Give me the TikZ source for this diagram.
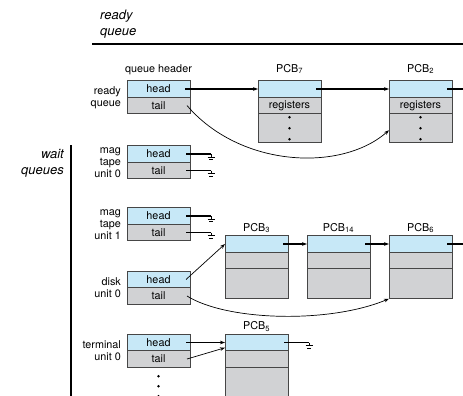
\documentclass[tikz,border=0pt]{standalone}
\usepackage{fontspec}
\setmainfont{TeX Gyre Heros}
\usepackage{tikz}
\usetikzlibrary{arrows.meta, positioning}

\definecolor{cellblue}{RGB}{199,232,247}
\definecolor{cellgray}{RGB}{209,210,212}
\definecolor{edgegray}{RGB}{70,70,70}

\begin{document}
\begin{tikzpicture}[x=1pt, y=-1pt,
    every node/.style={font=\fontsize{10.8}{12}\selectfont},
    cell/.style={draw=edgegray, line width=0.75pt, minimum width=63pt, minimum height=16.5pt, inner sep=0pt, outer sep=0pt},
    blue cell/.style={cell, fill=cellblue},
    gray cell/.style={cell, fill=cellgray},
    tag/.style={align=right, inner sep=0pt},
    caption/.style={anchor=base, inner sep=0pt},
    title/.style={font=\fontsize{13}{16}\selectfont\itshape, inner sep=0pt},
    link/.style={line width=1.3pt},
    ptr/.style={link, -{Stealth[length=5pt, width=3.6pt]}},
    thin ptr/.style={line width=0.7pt, -{Stealth[length=5pt, width=3.6pt]}},
    gnd/.pic={\draw[line width=1pt] (0,0) -- (0,3) (-3.5,3) -- (3.5,3) (-2,5.5) -- (2,5.5);}]
    \useasboundingbox (0,0) rectangle (463,396);
    \coordinate (rim) at (475,0);

    \node[title, align=left, anchor=north west] (readytitle) at (100,9.5) {ready\\queue};
    \draw[line width=1.2pt] (92,44) -- (470,44);
    \node[title, align=right, anchor=north east] (waittitle) at (64,149.5) {wait\\queues};
    \draw[line width=1.2pt] (71,145) -- (71,402);

    % queue headers
    \node[blue cell] (rqhead) at (158.5,89) {head};
    \node[gray cell, below=0pt of rqhead] (rqtail) {tail};
    \node[caption] (hdrcap) at ([yshift=8.5pt]rqhead.north) {queue header};
    \node[tag, left=6pt of rqhead.south west, anchor=east] (rqtag) {ready\\queue};

    \node[blue cell] (mt0head) at (158.5,154) {head};
    \node[gray cell, below=0pt of mt0head] (mt0tail) {tail};
    \node[tag, left=6pt of mt0head.south west, anchor=east] (mt0tag) {mag\\tape\\unit 0};

    \node[blue cell] (mt1head) at (158.5,216) {head};
    \node[gray cell, below=0pt of mt1head] (mt1tail) {tail};
    \node[tag, left=6pt of mt1head.south west, anchor=east] (mt1tag) {mag\\tape\\unit 1};

    \node[blue cell] (dkhead) at (158.5,279.5) {head};
    \node[gray cell, below=0pt of dkhead] (dktail) {tail};
    \node[tag, left=6pt of dkhead.south west, anchor=east] (dktag) {disk\\unit 0};

    \node[blue cell] (tmhead) at (158.5,342.5) {head};
    \node[gray cell, below=0pt of tmhead] (tmtail) {tail};
    \node[tag, left=6pt of tmhead.south west, anchor=east] (tmtag) {terminal\\unit 0};

    % ready queue PCBs
    \node[blue cell] (pcb7top) at (289.5,89) {};
    \node[gray cell, below=0pt of pcb7top] (pcb7regs) {registers};
    \node[gray cell, minimum height=29pt, below=0pt of pcb7regs] (pcb7dots) {};
    \node[caption] (pcb7cap) at ([yshift=8.5pt]pcb7top.north) {PCB\textsubscript{7}};

    \node[blue cell, right=68pt of pcb7top] (pcb2top) {};
    \node[gray cell, below=0pt of pcb2top] (pcb2regs) {registers};
    \node[gray cell, minimum height=29pt, below=0pt of pcb2regs] (pcb2dots) {};
    \node[caption] (pcb2cap) at ([yshift=8.5pt]pcb2top.north) {PCB\textsubscript{2}};

    \foreach \p in {pcb7,pcb2}
        \foreach \d in {3.5,14.5,25.5}
            \fill (\p dots.north) ++(0,\d) circle (1.4pt);

    % disk and terminal PCBs
    \node[blue cell] (pcb3top) at (256.5,244) {};
    \node[gray cell, below=0pt of pcb3top] (pcb3mid) {};
    \node[gray cell, minimum height=30pt, below=0pt of pcb3mid] (pcb3bot) {};
    \node[caption] (pcb3cap) at ([yshift=4.5pt]pcb3top.north) {PCB\textsubscript{3}};

    \node[blue cell, right=19pt of pcb3top] (pcb14top) {};
    \node[gray cell, below=0pt of pcb14top] (pcb14mid) {};
    \node[gray cell, minimum height=30pt, below=0pt of pcb14mid] (pcb14bot) {};
    \node[caption] (pcb14cap) at ([yshift=4.5pt]pcb14top.north) {PCB\textsubscript{14}};

    \node[blue cell, right=19pt of pcb14top] (pcb6top) {};
    \node[gray cell, below=0pt of pcb6top] (pcb6mid) {};
    \node[gray cell, minimum height=30pt, below=0pt of pcb6mid] (pcb6bot) {};
    \node[caption] (pcb6cap) at ([yshift=4.5pt]pcb6top.north) {PCB\textsubscript{6}};

    \node[blue cell] (pcb5top) at (256.5,342.5) {};
    \node[gray cell, below=0pt of pcb5top] (pcb5mid) {};
    \node[gray cell, minimum height=36pt, below=0pt of pcb5mid] (pcb5bot) {};
    \node[caption] (pcb5cap) at ([yshift=4.5pt]pcb5top.north) {PCB\textsubscript{5}};

    \foreach \d in {9,19,29}
        \fill (tmtail.south) ++(0,\d) circle (1.4pt);

    % pointers
    \draw[ptr] ([xshift=-5pt]rqhead.east) -- (pcb7top.west);
    \draw[ptr] ([xshift=-5pt]pcb7top.east) -- (pcb2top.west);
    \draw[link] ([xshift=-5pt]pcb2top.east) -- (pcb2top.east -| rim);
    \draw[thin ptr] ([xshift=-3pt]rqtail.east) .. controls +(53,62) and +(-48,42) .. ([yshift=-2pt]pcb2dots.west);

    \foreach \n in {mt0head,mt0tail,mt1head,mt1tail,pcb5top}
        \draw[link] ([xshift=-4pt]\n.east) -- ++(25,0) pic{gnd};

    \draw[thin ptr] ([xshift=-4pt]dkhead.east) -- (pcb3top.west);
    \draw[ptr] ([xshift=-5pt]pcb3top.east) -- (pcb14top.west);
    \draw[ptr] ([xshift=-5pt]pcb14top.east) -- (pcb6top.west);
    \draw[link] ([xshift=-5pt]pcb6top.east) -- (pcb6top.east -| rim);
    \draw[thin ptr] ([xshift=-3pt]dktail.east) .. controls +(40,25) and +(-60,25) .. (pcb6bot.south west);

    \draw[ptr] ([xshift=-4pt]tmhead.east) -- (pcb5top.west);
    \draw[thin ptr] ([xshift=-3pt]tmtail.east) -- ([yshift=3pt]pcb5top.south west);
\end{tikzpicture}
\end{document}
